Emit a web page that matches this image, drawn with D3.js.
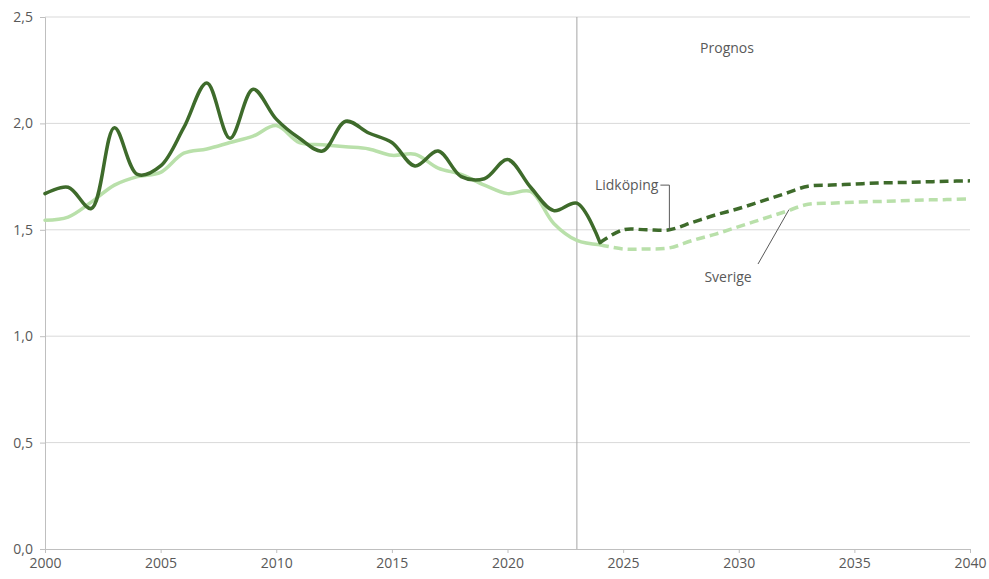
<!DOCTYPE html>
<html>
<head>
<meta charset="utf-8">
<script src="https://cdn.jsdelivr.net/npm/d3@7"></script>
<style>
  body { margin: 0; background: #fff; }
  text { font-family: "Open Sans", "Liberation Sans", sans-serif; fill: #595959; }
</style>
</head>
<body>
<svg id="chart" width="989" height="579"></svg>
<script>
// --- Data ---
const histYears = d3.range(2000, 2025);
const lidkopingHist = [1.67, 1.70, 1.60, 1.98, 1.76, 1.80, 1.98, 2.19, 1.93, 2.16,
                       2.02, 1.93, 1.87, 2.01, 1.955, 1.91, 1.80, 1.87, 1.75, 1.74,
                       1.83, 1.70, 1.59, 1.625, 1.44];
const sverigeHist = [1.545, 1.56, 1.63, 1.71, 1.75, 1.77, 1.86, 1.88, 1.91, 1.94,
                     1.99, 1.91, 1.90, 1.89, 1.88, 1.85, 1.855, 1.79, 1.76, 1.71,
                     1.67, 1.68, 1.53, 1.45, 1.43];

const progYears = d3.range(2024, 2041);
const lidkopingProg = [1.44, 1.50, 1.50, 1.50, 1.535, 1.57, 1.60, 1.635, 1.67, 1.705,
                       1.71, 1.715, 1.72, 1.722, 1.725, 1.728, 1.73];
const sverigeProg = [1.43, 1.41, 1.41, 1.415, 1.45, 1.48, 1.515, 1.55, 1.585, 1.62,
                     1.625, 1.63, 1.633, 1.636, 1.64, 1.642, 1.645];

const xTicks = [2000, 2005, 2010, 2015, 2020, 2025, 2030, 2035, 2040];
const yTicks = [0, 0.5, 1.0, 1.5, 2.0, 2.5];
const prognosStart = 2023;

// --- Setup ---
const svg = d3.select("#chart");
const margin = { left: 45, right: 19, top: 17, bottom: 30 };
const W = 989, H = 579;

const x = d3.scaleLinear().domain([2000, 2040]).range([margin.left, W - margin.right]);
const y = d3.scaleLinear().domain([0, 2.5]).range([H - margin.bottom, margin.top]);
const fmt = d => d3.format(".1f")(d).replace(".", ",");

// Gridlines
svg.append("g")
  .selectAll("line")
  .data(yTicks.filter(d => d > 0))
  .join("line")
  .attr("x1", x(2000)).attr("x2", x(2040))
  .attr("y1", d => y(d)).attr("y2", d => y(d))
  .attr("stroke", "#d9d9d9").attr("stroke-width", 1);

// Y axis
const yAxis = svg.append("g")
  .attr("transform", `translate(${x(2000)},0)`)
  .call(d3.axisLeft(y).tickValues(yTicks).tickFormat(fmt).tickSize(5).tickPadding(7));
yAxis.select(".domain").attr("stroke", "#bfbfbf");
yAxis.selectAll(".tick line").attr("stroke", "#bfbfbf");
yAxis.selectAll("text").style("font-size", "14px").attr("fill", "#595959");

// X axis
const xAxis = svg.append("g")
  .attr("transform", `translate(0,${y(0)})`)
  .call(d3.axisBottom(x).tickValues(xTicks).tickFormat(d3.format("d")).tickSize(4).tickPadding(5));
xAxis.select(".domain").attr("stroke", "#bfbfbf");
xAxis.selectAll(".tick line").attr("stroke", "#bfbfbf");
xAxis.selectAll("text").style("font-size", "14px").attr("fill", "#595959");

// Prognos divider
svg.append("line")
  .attr("x1", x(prognosStart)).attr("x2", x(prognosStart))
  .attr("y1", y(2.5)).attr("y2", y(0))
  .attr("stroke", "#a6a6a6").attr("stroke-width", 1);

svg.append("text")
  .attr("x", 727).attr("y", 53)
  .attr("text-anchor", "middle")
  .style("font-size", "14px")
  .text("Prognos");

// --- Lines ---
const line = d3.line()
  .x(d => x(d[0]))
  .y(d => y(d[1]))
  .curve(d3.curveCatmullRom.alpha(0.5));

const zip = (a, b) => a.map((v, i) => [v, b[i]]);

const lightGreen = "#b9e0aa";
const darkGreen = "#3e6b2b";

svg.append("path").datum(zip(histYears, sverigeHist))
  .attr("d", line).attr("fill", "none")
  .attr("stroke", lightGreen).attr("stroke-width", 3.5).attr("stroke-linecap", "round");
svg.append("path").datum(zip(progYears, sverigeProg))
  .attr("d", line).attr("fill", "none")
  .attr("stroke", lightGreen).attr("stroke-width", 3.5).attr("stroke-dasharray", "9,5");

svg.append("path").datum(zip(histYears, lidkopingHist))
  .attr("d", line).attr("fill", "none")
  .attr("stroke", darkGreen).attr("stroke-width", 3.5).attr("stroke-linecap", "round");
svg.append("path").datum(zip(progYears, lidkopingProg))
  .attr("d", line).attr("fill", "none")
  .attr("stroke", darkGreen).attr("stroke-width", 3.5).attr("stroke-dasharray", "9,5");

// --- Labels ---
const lidIdx = progYears.indexOf(2027);
const lx = x(2027), ly = y(lidkopingProg[lidIdx]);
svg.append("path")
  .attr("d", `M${lx - 9},${y(1.71)}H${lx}V${ly}`)
  .attr("fill", "none").attr("stroke", "#595959").attr("stroke-width", 1);
svg.append("text")
  .attr("x", lx - 11).attr("y", y(1.71) + 5)
  .attr("text-anchor", "end")
  .style("font-size", "14px")
  .text("Lidköping");

const svIdx = progYears.indexOf(2032);
svg.append("line")
  .attr("x1", 758).attr("y1", 264)
  .attr("x2", x(2032) + 4).attr("y2", y(sverigeProg[svIdx] + 0.01))
  .attr("stroke", "#595959").attr("stroke-width", 1);
svg.append("text")
  .attr("x", 728).attr("y", 282)
  .attr("text-anchor", "middle")
  .style("font-size", "14px")
  .text("Sverige");
</script>
</body>
</html>
